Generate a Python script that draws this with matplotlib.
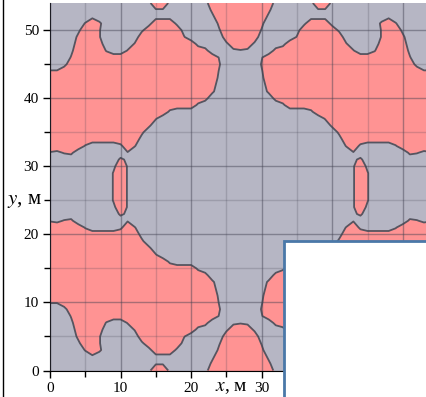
import numpy as np
import matplotlib.pyplot as plt
from matplotlib.patches import Rectangle
from matplotlib.lines import Line2D
from matplotlib.ticker import MultipleLocator

plt.rcParams['font.family'] = ['Liberation Serif', 'DejaVu Serif']
plt.rcParams['mathtext.fontset'] = 'stix'

# field level (0..9) read on a 1 m grid, lower-left quadrant x = 0..27, y = 27..0
# the map is symmetric about x = 27 and y = 27, so the other quadrants are mirrors
quadrant_rows = [
    "0000000005940000000000000000",  # y = 27
    "0000000005940000000000000000",
    "0000000005940000000000000000",
    "0000000003940000000000000000",
    "0000000000630000000000000000",
    "4356000000040000000000000000",  # y = 22
    "9999940000395000000000000000",
    "9999999999999200000000000000",
    "9999999999999600000000000000",
    "9999999999999960000000000000",
    "9999999999999995000000000000",  # y = 17
    "9999999999999999930000000000",
    "9999999999999999999993000000",
    "9999999999999999999999700000",
    "9999999999999999999999960000",
    "9999999999999999999999990000",  # y = 12
    "9999999999999999999999993000",
    "5599999999999999999999994000",
    "0029999999999999999999995000",
    "0005999999999999999999994000",
    "0003999940059999999999700034",  # y = 7
    "0000999800005999999992000399",
    "0000699500000999999500000999",
    "0000399500000399999200004999",
    "0000059600000029993000006999",
    "0000003000000002220000039999",  # y = 2
    "0000000000000004400000069999",
    "0000000000000039930000299999",  # y = 0
]
level = 4.5
x_max, y_max = 54, 54

q = np.array([[int(c) for c in row] for row in quadrant_rows[::-1]], dtype=float)
half = np.hstack([q, q[:, -2::-1]])
field = np.vstack([half, half[-2::-1, :]])
xs = np.arange(field.shape[1])
ys = np.arange(field.shape[0])

fig = plt.figure(figsize=(4.26, 3.97), dpi=100)
ax = fig.add_axes([50 / 426, 26.5 / 397, 381 / 426, 367.5 / 397])

ax.contourf(xs, ys, field, levels=[-1, level, 10], colors=['#b6b6c4', '#ff9393'])
ax.contour(xs, ys, field, levels=[level], colors='#555560', linewidths=1.3)

ax.set_xlim(0, x_max)
ax.set_ylim(0, y_max)
ax.xaxis.set_major_locator(MultipleLocator(10))
ax.yaxis.set_major_locator(MultipleLocator(10))
ax.xaxis.set_minor_locator(MultipleLocator(5))
ax.yaxis.set_minor_locator(MultipleLocator(5))
ax.set_axisbelow(False)
ax.grid(which='major', color='#404050', alpha=0.45, linewidth=1.0)
ax.grid(which='minor', color='#404050', alpha=0.22, linewidth=1.0)

ax.tick_params(which='major', direction='out', length=5, width=1, labelsize=11, pad=3)
ax.tick_params(which='minor', direction='out', length=4, width=1)
ax.spines['top'].set_visible(False)
ax.spines['right'].set_visible(False)

fig.text(42 / 426, 1 - 201 / 397, '$y$, м', ha='right', va='center', fontsize=15)
fig.text(231 / 426, 1 - 396 / 397, '$x$, м', ha='center', va='bottom', fontsize=14)

# frame line at the left edge and the white panel over the lower right
fig.add_artist(Line2D([2.5 / 426, 2.5 / 426], [0, 1], color='black', linewidth=1))
fig.add_artist(Rectangle((284 / 426, -0.05), 0.5, (397 - 241) / 397 + 0.05,
                         transform=fig.transFigure, facecolor='white',
                         edgecolor='#4a78a8', linewidth=2, zorder=10))

fig.savefig('out.png', dpi=100)
